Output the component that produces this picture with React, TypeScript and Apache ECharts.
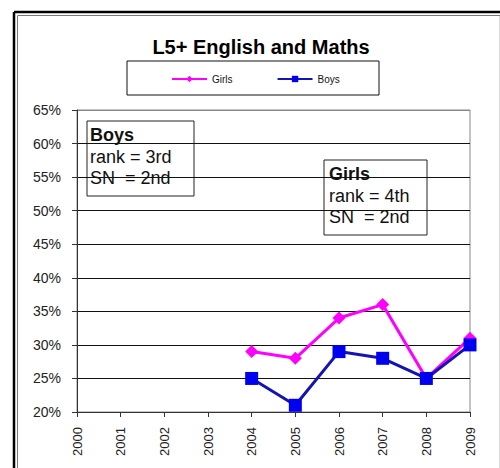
import React, { useEffect, useRef } from "react";
import * as echarts from "echarts";

const years = ["2000", "2001", "2002", "2003", "2004", "2005", "2006", "2007", "2008", "2009"];
const girls = [null, null, null, null, 29, 28, 34, 36, 25, 31];
const boys = [null, null, null, null, 25, 21, 29, 28, 25, 30];
const yMin = 20;
const yMax = 65;
const yStep = 5;
const titleText = "L5+ English and Maths";
const boysNote = ["Boys", "rank = 3rd", "SN  = 2nd"];
const girlsNote = ["Girls", "rank = 4th", "SN  = 2nd"];

const FONT = "Arial, 'Liberation Sans', sans-serif";

function noteBox(x: number, y: number, w: number, h: number, lines: string[], textX: number, rowYs: number[]) {
  return {
    type: "group",
    z: 100,
    children: [
      { type: "rect", shape: { x, y, width: w, height: h }, style: { fill: "#fff", stroke: "#222", lineWidth: 1 } },
      ...lines.map((t, i) => ({
        type: "text",
        x: textX,
        y: rowYs[i],
        style: {
          text: t,
          font: `${i === 0 ? "bold " : ""}18px ${FONT}`,
          fill: "#111",
          textVerticalAlign: "middle",
          verticalAlign: "middle",
        },
      })),
    ],
  };
}

export default function App() {
  const ref = useRef<HTMLDivElement>(null);
  useEffect(() => {
    document.documentElement.style.overflow = "hidden";
    document.body.style.margin = "0";
    document.body.style.overflow = "hidden";
    const chart = echarts.init(ref.current!, null, { renderer: "svg" });
    const splitColors = [];
    for (let v = yMin; v <= yMax; v += yStep) splitColors.push(v === yMax ? "#888" : "#111");
    chart.setOption({
      animation: false,
      backgroundColor: "#fff",
      title: {
        text: titleText,
        left: 256,
        textAlign: "center",
        top: 32,
        textStyle: { fontFamily: FONT, fontWeight: "bold", fontSize: 20, color: "#000" },
      },
      legend: {
        left: 171,
        top: 74,
        itemWidth: 35,
        itemHeight: 8,
        itemGap: 44,
        padding: 0,
        lineStyle: { width: 2 },
        textStyle: { fontFamily: FONT, fontSize: 10, color: "#111" },
        data: ["Girls", "Boys"],
      },
      grid: { left: 77, right: 30, top: 110, bottom: 56, show: true, borderColor: "#888", borderWidth: 1 },
      xAxis: {
        type: "category",
        data: years,
        boundaryGap: false,
        axisLine: { lineStyle: { color: "#333", width: 1 } },
        axisTick: { show: true, length: 5, lineStyle: { color: "#333" } },
        axisLabel: { rotate: 90, margin: 15, fontFamily: FONT, fontSize: 13, color: "#222" },
        splitLine: { show: false },
      },
      yAxis: {
        type: "value",
        min: yMin,
        max: yMax,
        interval: yStep,
        axisLine: { show: true, lineStyle: { color: "#333", width: 1 } },
        axisTick: { show: true, length: 5, lineStyle: { color: "#333" } },
        axisLabel: { formatter: "{value}%", margin: 16, fontFamily: FONT, fontSize: 14, color: "#222" },
        splitLine: { show: true, lineStyle: { color: splitColors, width: 1 } },
      },
      series: [
        {
          name: "Girls",
          type: "line",
          data: girls,
          connectNulls: false,
          symbol: "diamond",
          symbolSize: 13,
          itemStyle: { color: "#FF00FF" },
          lineStyle: { color: "#FF00FF", width: 3 },
        },
        {
          name: "Boys",
          type: "line",
          data: boys,
          connectNulls: false,
          symbol: "rect",
          symbolSize: 13,
          itemStyle: { color: "#0000F0" },
          lineStyle: { color: "#1414B0", width: 3 },
        },
      ],
      graphic: [
        { type: "rect", shape: { x: 127, y: 61, width: 252, height: 34 }, style: { fill: "none", stroke: "#111", lineWidth: 1 }, z: 1 },
        noteBox(87, 121, 107, 75, boysNote, 90, [135, 157, 178]),
        noteBox(324, 160, 103, 75, girlsNote, 329, [174, 196, 217]),
        { type: "line", shape: { x1: 14, y1: 12, x2: 14, y2: 468 }, style: { stroke: "#000", lineWidth: 2.5 } },
        { type: "line", shape: { x1: 14, y1: 12, x2: 500, y2: 12 }, style: { stroke: "#000", lineWidth: 2.5 } },
        { type: "line", shape: { x1: 17.5, y1: 15.5, x2: 17.5, y2: 468 }, style: { stroke: "#777", lineWidth: 1 } },
        { type: "line", shape: { x1: 17.5, y1: 15.5, x2: 500, y2: 15.5 }, style: { stroke: "#777", lineWidth: 1 } },
        { type: "line", shape: { x1: 499.5, y1: 16, x2: 499.5, y2: 468 }, style: { stroke: "#ddd", lineWidth: 1 } },
      ],
    });
    return () => chart.dispose();
  }, []);
  return <div ref={ref} style={{ width: 500, height: 468 }} />;
}
